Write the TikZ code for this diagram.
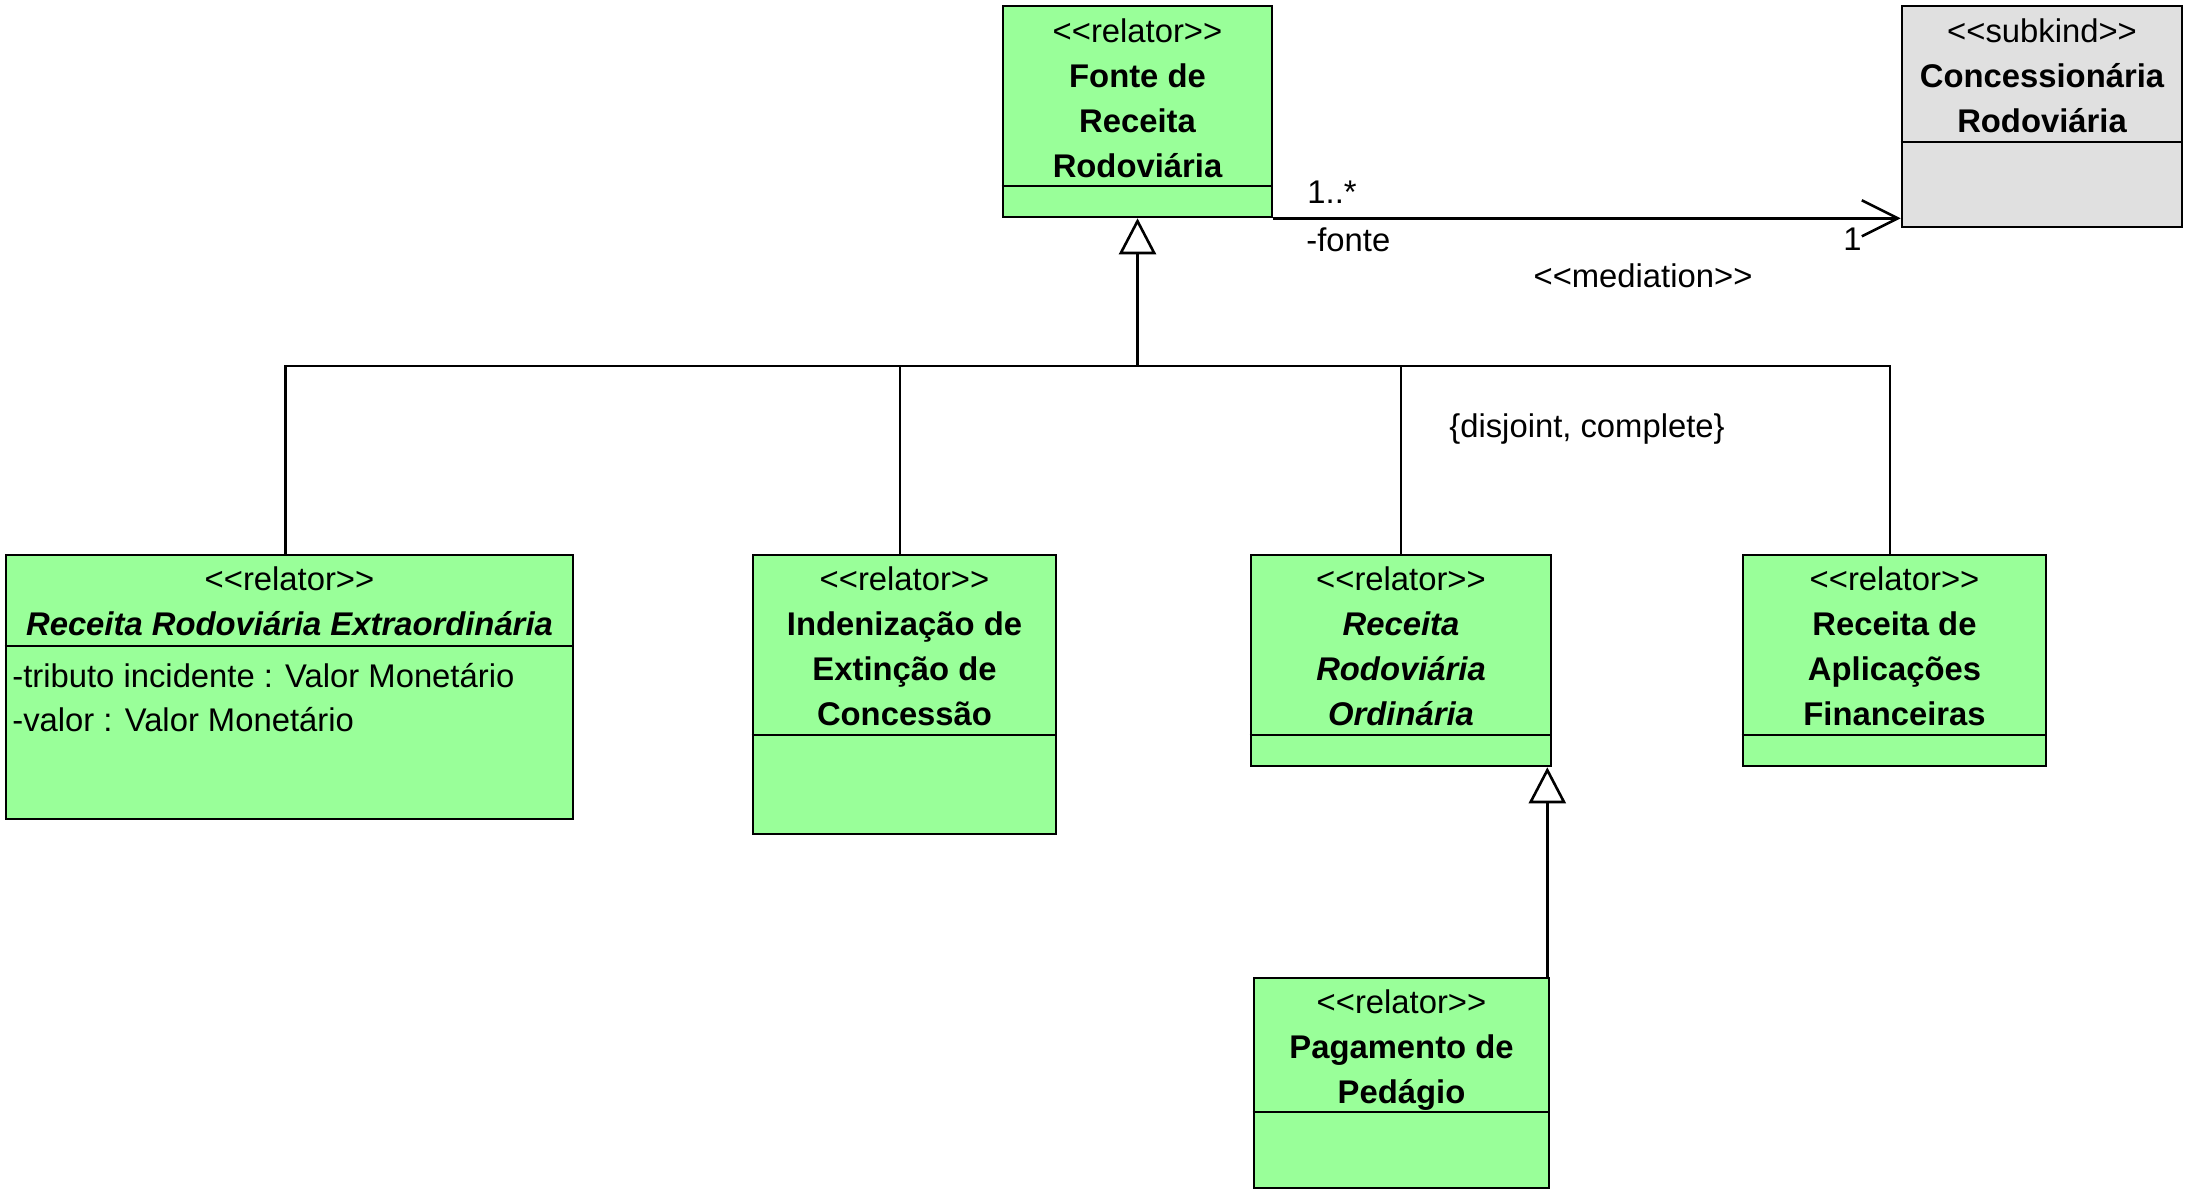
\documentclass[tikz,border=0pt]{standalone}
\usepackage{fontspec}
\setmainfont{Liberation Sans}[Ligatures=TeXOff]
\usetikzlibrary{arrows.meta,fit}
\definecolor{relgreen}{RGB}{153,255,153}
\definecolor{kindgray}{RGB}{224,224,224}
\begin{document}
\begin{tikzpicture}[x=0.5pt,y=-0.5pt,
  umlbox/.style={draw, line width=1.3pt, inner sep=0pt, rectangle},
  lbl/.style={inner sep=0pt, anchor=base, font=\fontsize{16.4}{20}\selectfont},
  lblw/.style={lbl, anchor=base west},
  lble/.style={lbl, anchor=base east},
  conn/.style={line width=1.3pt},
  gen/.style={conn, -{Triangle[fill=white, length=18pt, width=18.5pt]}},
  med/.style={conn, -{Straight Barb[length=18pt, width=18pt]}}]
\useasboundingbox (0,0) rectangle (2193,1200);

% boxes
\node[umlbox, fill=relgreen, fit={(1003,6) (1272,217)}] (fonte) {};
\draw[conn] (fonte.west |- 0,186) -- (fonte.east |- 0,186);
\node[umlbox, fill=kindgray, fit={(1902,6) (2182,227)}] (conc) {};
\draw[conn] (conc.west |- 0,142) -- (conc.east |- 0,142);
\node[umlbox, fill=relgreen, fit={(6,555) (573,819)}] (ree) {};
\draw[conn] (ree.west |- 0,646) -- (ree.east |- 0,646);
\node[umlbox, fill=relgreen, fit={(753,555) (1056,834)}] (ind) {};
\draw[conn] (ind.west |- 0,735) -- (ind.east |- 0,735);
\node[umlbox, fill=relgreen, fit={(1251,555) (1551,766)}] (rro) {};
\draw[conn] (rro.west |- 0,735) -- (rro.east |- 0,735);
\node[umlbox, fill=relgreen, fit={(1743,555) (2046,766)}] (raf) {};
\draw[conn] (raf.west |- 0,735) -- (raf.east |- 0,735);
\node[umlbox, fill=relgreen, fit={(1254,978) (1549,1188)}] (pag) {};
\draw[conn] (pag.west |- 0,1112) -- (pag.east |- 0,1112);

% box texts
\node[lbl] (fonte1) at (1137.5,42) {<<relator>>};
\node[lbl] (fonte2) at (1137.5,87) {\bfseries Fonte de};
\node[lbl] (fonte3) at (1137.5,132) {\bfseries Receita};
\node[lbl] (fonte4) at (1137.5,177) {\bfseries Rodoviária};

\node[lbl] (conc1) at (2042,42) {<<subkind>>};
\node[lbl] (conc2) at (2042,87) {\bfseries Concessionária};
\node[lbl] (conc3) at (2042,132) {\bfseries Rodoviária};

\node[lbl] (ree1) at (289.5,590) {<<relator>>};
\node[lbl] (ree2) at (289.5,635) {\bfseries\itshape Receita Rodoviária Extraordinária};
\node[lblw] (ree3) at (12,687) {-tributo incidente : Valor Monetário};
\node[lblw] (ree4) at (12,731) {-valor : Valor Monetário};

\node[lbl] (ind1) at (904.5,590) {<<relator>>};
\node[lbl] (ind2) at (904.5,635) {\bfseries Indenização de};
\node[lbl] (ind3) at (904.5,680) {\bfseries Extinção de};
\node[lbl] (ind4) at (904.5,725) {\bfseries Concessão};

\node[lbl] (rro1) at (1401,590) {<<relator>>};
\node[lbl] (rro2) at (1401,635) {\bfseries\itshape Receita};
\node[lbl] (rro3) at (1401,680) {\bfseries\itshape Rodoviária};
\node[lbl] (rro4) at (1401,725) {\bfseries\itshape Ordinária};

\node[lbl] (raf1) at (1894.5,590) {<<relator>>};
\node[lbl] (raf2) at (1894.5,635) {\bfseries Receita de};
\node[lbl] (raf3) at (1894.5,680) {\bfseries Aplicações};
\node[lbl] (raf4) at (1894.5,725) {\bfseries Financeiras};

\node[lbl] (pag1) at (1401.5,1013) {<<relator>>};
\node[lbl] (pag2) at (1401.5,1058) {\bfseries Pagamento de};
\node[lbl] (pag3) at (1401.5,1103) {\bfseries Pedágio};

% generalization set
\coordinate (bar) at (fonte.south |- 0,366);
\coordinate (reeTop) at ([xshift=-2pt]ree.north);
\coordinate (indTop) at ([xshift=-2.25pt]ind.north);
\coordinate (rafTop) at ([xshift=-2.25pt]raf.north);
\draw[gen] (bar) -- (fonte.south);
\draw[conn] (reeTop) -- (reeTop |- bar) -- (rafTop |- bar) -- (rafTop);
\draw[conn] (indTop) -- (indTop |- bar);
\draw[conn] (rro.north) -- (rro.north |- bar);
\node[lbl] (gset) at (1587,437) {\{disjoint, complete\}};

% second generalization
\draw[gen] ([xshift=-1.5]pag.north east) -- ([xshift=-1.5]pag.north east |- rro.south);

% mediation
\draw[med] (fonte.south east) -- (fonte.south east -| conc.west);
\node[lblw] (m1) at (1307,203) {1..*};
\node[lblw] (m2) at (1306,251) {-fonte};
\node[lble] (m3) at (1862,250) {1};
\node[lbl] (m4) at (1643,287) {<<mediation>>};
\end{tikzpicture}
\end{document}
